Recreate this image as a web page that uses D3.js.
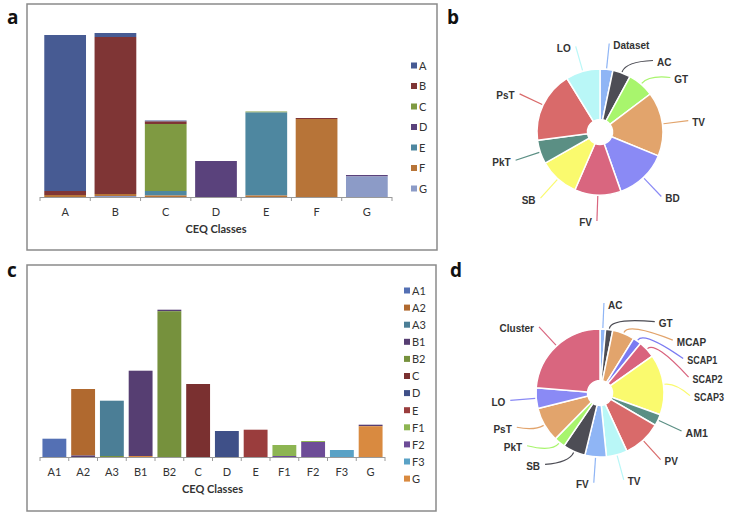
<!DOCTYPE html>
<html>
<head>
  <script src="https://d3js.org/d3.v7.min.js"></script>
  <style>
    body { margin: 0; background: #fff; }
  </style>
</head>
<body>
  <svg id="fig"></svg>

  <script>
    // ---- data: panel a (stacked bars) ----
    const classesA = ["A", "B", "C", "D", "E", "F", "G"];
    const valuesA = [
      // A,   B,    C,  D,   E,    F,   G
      [156,   4,    0,  0,   0,    2,   0],
      [  4, 157,    0,  0,   0,    2,   1],
      [  1, 2.5,   67,  0, 4.5,  1.5,   0],
      [  0,   0,    0, 36,   0,    0,   0],
      [  0,   0,    1,  0,  83,  1.5,   0],
      [  0,   1,    0,  0,   0,   78,   0],
      [  0,   0,    0, 1.5,  0,    0, 20.5]
    ];
    const coloursA = ["#475b93", "#7f3535", "#7f9a42", "#5a427c", "#4e87a0", "#b77438", "#8c9bc7"];

    // ---- data: panel c (stacked bars) ----
    const classesC = ["A1", "A2", "A3", "B1", "B2", "C", "D", "E", "F1", "F2", "F3", "G"];
    const valuesC = [
      // A1,  A2,   A3,   B1,    B2,  C,  D,    E,  F1, F2, F3,  G
      [18.3,   0,    0,    0,     0,  0,  0,    0,  0,  0,  0,   0],
      [   0, 66.5,   0,  1.5,     0,  0,  0,    0,  0,  0,  0,   0],
      [   0,   0, 55.3,    0,     1,  0,  0,    0,  0,  0,  0,   0],
      [   0,   0,    0, 85.3,     0,  0,  0,    0,  0,  0,  0,   1],
      [   0,   0,    0,  1.5, 145.8,  0,  0,    0,  0,  0,  0,   0],
      [   0,   0,    0,    0,     0, 73,  0,    0,  0,  0,  0,   0],
      [   0,   0,    0,    0,     0,  0, 26,    0,  0,  0,  0,   0],
      [   0,   0,    0,    0,     0,  0,  0, 27.3,  0,  0,  0,   0],
      [   0,   0,    0,    0,     0,  0,  0,    0, 11,  1,  0,   0],
      [   0,   0,    0,    0,     0,  0,  0,    0,  1, 15,  0,   0],
      [   0,   0,    0,    0,     0,  0,  0,    0,  0,  0,  7,   0],
      [   0,   0,    0,  1.5,     0,  0,  0,    0,  0,  0,  0, 30.8]
    ];
    const coloursC = ["#5470b4", "#b0692f", "#4b7e96", "#563e72", "#76913d", "#7a3030",
                      "#3f5088", "#9a3d3d", "#8db552", "#6d4c97", "#5aa2c6", "#d98a40"];

    // ---- data: panel b (pie) ----
    const labelsB = ["Dataset", "AC", "GT", "TV", "BD", "FV", "SB", "PkT", "PsT", "LO"];
    const sharesB = [3.3, 4.6, 6.8, 16.5, 13.4, 11.9, 10.3, 6.1, 18.3, 8.8];
    const coloursB = ["#8fb5f5", "#4d4d55", "#a8f56d", "#e2a46c", "#8a8af5",
                      "#d9667f", "#fafa6e", "#5b8f84", "#d96a6a", "#b9f7f7"];

    // ---- data: panel d (pie) ----
    const labelsD = ["AC", "GT", "MCAP", "SCAP1", "SCAP2", "SCAP3", "AM1", "PV",
                     "TV", "FV", "SB", "PkT", "PsT", "LO", "Cluster"];
    const sharesD = [1.4, 1.8, 5.6, 2.1, 4.3, 15.3, 2.9, 9.7, 5.3, 5.4, 5.7, 2.8, 8.8, 5.2, 23.7];
    const coloursD = ["#8fb5f5", "#4d4d55", "#e2a46c", "#7b7bf2", "#d9637d", "#fafa6e", "#5b8f84",
                      "#d96a6a", "#b9f7f7", "#8fb5f5", "#4d4d55", "#a8f56d", "#e2a46c", "#8a8af5", "#d9667f"];
    const bigD = ["SCAP1", "SCAP2", "SCAP3", "AM1"];

    const svg = d3.select("#fig").attr("width", 729).attr("height", 512);
    const tickFont = "Lato, 'Open Sans', sans-serif";

    // panel letters
    [["a", 7, 24], ["b", 447, 24], ["c", 7, 277], ["d", 450, 277]].forEach(([t, x, y]) => {
      svg.append("text").attr("x", x).attr("y", y).text(t)
        .attr("font-family", "'Open Sans', sans-serif").attr("font-weight", "bold")
        .attr("font-size", 19).attr("fill", "#111");
    });

    function barPanel(o) {
      const g = svg.append("g");
      g.append("rect").attr("x", o.frame[0]).attr("y", o.frame[1])
        .attr("width", o.frame[2]).attr("height", o.frame[3])
        .attr("fill", "#fff").attr("stroke", "#8a8a8a").attr("stroke-width", 1.5);

      const x = d3.scaleBand().domain(o.classes).range([o.x0, o.x1]).paddingInner(o.pad).paddingOuter(o.pad / 2);
      const y = d3.scaleLinear().domain([0, o.ymax]).range([o.base, o.base - o.ymax]);

      const rows = o.values.map((r, i) => {
        const obj = { cls: o.classes[i] };
        o.classes.forEach((k, j) => obj[k] = r[j]);
        return obj;
      });
      const stack = d3.stack().keys(o.classes).order(d3.stackOrderReverse)(rows);

      g.selectAll("g.layer").data(stack).enter().append("g")
        .attr("fill", (d, i) => o.colours[i])
        .selectAll("rect").data(d => d).enter().append("rect")
        .attr("x", d => x(d.data.cls))
        .attr("width", x.bandwidth())
        .attr("y", d => y(d[1]))
        .attr("height", d => Math.max(0, y(d[0]) - y(d[1])));

      // category axis
      const step = x.step();
      const ax = g.append("g").attr("stroke", "#9a9a9a").attr("stroke-width", 1);
      ax.append("line").attr("x1", o.x0).attr("x2", o.x1).attr("y1", o.base + 0.5).attr("y2", o.base + 0.5);
      d3.range(o.classes.length + 1).forEach(i => {
        ax.append("line").attr("x1", o.x0 + i * step).attr("x2", o.x0 + i * step)
          .attr("y1", o.base).attr("y2", o.base + 4);
      });
      g.selectAll("text.tick").data(o.classes).enter().append("text")
        .attr("x", d => x(d) + x.bandwidth() / 2).attr("y", o.base + 19)
        .attr("text-anchor", "middle").attr("font-family", tickFont)
        .attr("font-size", 11).attr("fill", "#333").text(d => d);
      g.append("text").attr("x", (o.x0 + o.x1) / 2).attr("y", o.base + 36)
        .attr("text-anchor", "middle").attr("font-family", tickFont).attr("font-weight", "bold")
        .attr("font-size", 11).attr("fill", "#333").text("CEQ Classes");

      // legend
      const lg = g.selectAll("g.leg").data(o.classes).enter().append("g")
        .attr("transform", (d, i) => `translate(${o.legX},${o.legY + i * o.legStep})`);
      lg.append("rect").attr("x", 0).attr("y", -3.5).attr("width", 6).attr("height", 6)
        .attr("fill", (d, i) => o.colours[i]);
      lg.append("text").attr("x", 8).attr("y", 0).attr("dy", "0.35em")
        .attr("font-family", tickFont).attr("font-size", 11).attr("fill", "#333").text(d => d);
    }

    barPanel({
      frame: [27, 4, 410, 246], classes: classesA, values: valuesA, colours: coloursA,
      x0: 40, x1: 392, base: 197, ymax: 170, pad: 0.17,
      legX: 411, legY: 66, legStep: 20.5
    });
    barPanel({
      frame: [27, 265, 409, 246], classes: classesC, values: valuesC, colours: coloursC,
      x0: 40, x1: 385, base: 457, ymax: 155, pad: 0.17,
      legX: 404, legY: 291, legStep: 17.1
    });

    function piePanel(o) {
      const g = svg.append("g").attr("transform", `translate(${o.cx},${o.cy})`);
      const pie = d3.pie().sort(null).value(d => d.v);
      const data = pie(o.labels.map((l, i) => ({ label: l, v: o.values[i], c: o.colours[i] })));
      const arc = d3.arc().innerRadius(o.ri).outerRadius(o.r);

      g.selectAll("path.slice").data(data).enter().append("path")
        .attr("d", arc).attr("fill", d => d.data.c)
        .attr("stroke", "#fff").attr("stroke-width", 1.5);

      // label anchor points on a ring, pushed apart vertically
      const R = o.r + 26;
      data.forEach(d => {
        d.mid = (d.startAngle + d.endAngle) / 2;
        d.right = d.mid < Math.PI;
        d.ly = -R * Math.cos(d.mid);
      });
      const gap = o.gap;
      const right = data.filter(d => d.right).sort((a, b) => a.ly - b.ly);
      for (let i = 1; i < right.length; i++) right[i].ly = Math.max(right[i].ly, right[i - 1].ly + gap);
      const left = data.filter(d => !d.right).sort((a, b) => b.ly - a.ly);
      for (let i = 1; i < left.length; i++) left[i].ly = Math.min(left[i].ly, left[i - 1].ly - gap);
      data.forEach(d => {
        const dy = Math.max(-R, Math.min(R, d.ly));
        d.lx = (d.right ? 1 : -1) * Math.sqrt(R * R - dy * dy);
      });

      g.selectAll("path.link").data(data).enter().append("path")
        .attr("fill", "none").attr("stroke", d => d.data.c).attr("stroke-width", 1.2)
        .attr("d", d => {
          const s = [Math.sin(d.mid) * (o.r + 1), -Math.cos(d.mid) * (o.r + 1)];
          const c = [Math.sin(d.mid) * (o.r + 12), -Math.cos(d.mid) * (o.r + 12)];
          return `M${s}Q${c} ${d.lx},${d.ly}`;
        });

      g.selectAll("text.lab").data(data).enter().append("text")
        .attr("x", d => d.lx + (d.right ? 4 : -5))
        .attr("y", d => d.ly + 2)
        .attr("dy", "0.35em")
        .attr("text-anchor", d => d.right ? "start" : "end")
        .attr("font-family", "'Liberation Sans', Arial, sans-serif").attr("font-weight", "bold")
        .attr("font-size", d => o.big.includes(d.data.label) ? 10.5 : 10)
        .attr("textLength", d => o.big.includes(d.data.label) && d.data.label.length > 3 ? 30 : null)
        .attr("lengthAdjust", "spacingAndGlyphs")
        .attr("fill", "#333").text(d => d.data.label);
    }

    piePanel({ cx: 600, cy: 132, r: 63, ri: 12.5, labels: labelsB, values: sharesB,
               colours: coloursB, big: [], gap: 17 });
    piePanel({ cx: 600, cy: 393, r: 64, ri: 12.5, labels: labelsD, values: sharesD,
               colours: coloursD, big: bigD, gap: 18.5 });
  </script>
</body>
</html>
